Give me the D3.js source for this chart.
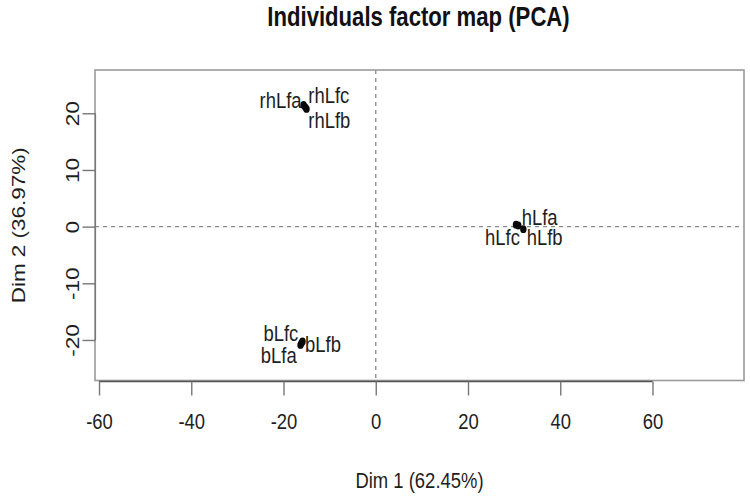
<!DOCTYPE html>
<html>
<head>
<meta charset="utf-8">
<script src="https://cdn.jsdelivr.net/npm/d3@7"></script>
<style>
  html, body { margin: 0; padding: 0; background: #fff; }
  svg { display: block; }
  text { font-family: "Liberation Sans", Arial, Helvetica, sans-serif; fill: #1e1e1e; }
</style>
</head>
<body>
<svg id="chart" width="750" height="499"></svg>
<script>
// ---- data ----
const individuals = ["rhLfa", "rhLfc", "rhLfb", "hLfc", "hLfa", "hLfb", "bLfa", "bLfc", "bLfb"];
const dim1 = [-15.66, -15.30, -15.01, 30.40, 30.90, 32.00, -16.31, -16.10, -15.88];
const dim2 = [21.47, 21.10, 20.77, 0.35, 0.20, -0.45, -20.87, -20.55, -20.26];
const xTicks = [-60, -40, -20, 0, 20, 40, 60];
const yTicks = [-20, -10, 0, 10, 20];
const titleText = "Individuals factor map (PCA)";
const xLabel = "Dim 1 (62.45%)";
const yLabel = "Dim 2 (36.97%)";

// label placement (pixel offsets from the point, as chosen by the label-repel step)
const labelPlacement = {
  rhLfa: [-2, 3.3, "end"],  rhLfc: [3.1, -3.8, "start"], rhLfb: [1.8, 19.3, "start"],
  hLfc:  [4, 20.3, "end"],  hLfa:  [3.4, -0.6, "start"], hLfb:  [3.3, 15.8, "start"],
  bLfa:  [-3.8, 18, "end"], bLfc:  [-3.2, -2.2, "end"],  bLfb:  [2.5, 10.2, "start"]
};

// ---- layout ----
const SX = 0.82;          // horizontal squeeze of the original picture
const FS = 22.5;          // base font size
const box = { left: 95, right: 744, top: 70, bottom: 380.5 };
const fmt = d => String(d);   // plain hyphen-minus like the original

const svg = d3.select("#chart");
const x = d3.scaleLinear().domain([-60.87, 79.84]).range([box.left, box.right]);
const y = d3.scaleLinear().domain([-27.15, 27.64]).range([box.bottom, box.top]);

// dashed reference lines
svg.append("line")
  .attr("x1", x(0)).attr("x2", x(0)).attr("y1", box.top).attr("y2", box.bottom)
  .attr("stroke", "#8a8a8a").attr("stroke-width", 1.3).attr("stroke-dasharray", "4,4");
svg.append("line")
  .attr("x1", box.left).attr("x2", box.right).attr("y1", y(0)).attr("y2", y(0))
  .attr("stroke", "#8a8a8a").attr("stroke-width", 1.3).attr("stroke-dasharray", "4,4");

// box
svg.append("rect")
  .attr("x", box.left).attr("y", box.top)
  .attr("width", box.right - box.left).attr("height", box.bottom - box.top)
  .attr("fill", "none").attr("stroke", "#9a9a9a").attr("stroke-width", 1.6);

// x axis
const gx = svg.append("g").attr("transform", `translate(0,${box.bottom + 1})`)
  .call(d3.axisBottom(x).tickValues(xTicks).tickSize(14).tickSizeOuter(0).tickFormat(fmt));
gx.select(".domain").attr("d", `M${x(-60)},0H${x(60)}`).attr("stroke", "#555").attr("stroke-width", 1.6);
gx.selectAll(".tick line").attr("stroke", "#777").attr("stroke-width", 1.4);
gx.selectAll(".tick text")
  .attr("y", null).attr("dy", null)
  .attr("transform", `translate(0,47.5) scale(${SX},1)`)
  .attr("text-anchor", "middle")
  .style("font-size", FS + "px").style("fill", "#1e1e1e")
  .style("font-family", '"Liberation Sans", Arial, sans-serif');

// y axis
const gy = svg.append("g").attr("transform", `translate(${box.left + 0.5},0)`)
  .call(d3.axisLeft(y).tickValues(yTicks).tickSize(13).tickSizeOuter(0).tickFormat(fmt));
gy.select(".domain").attr("d", `M0,${y(-20)}V${y(20)}`).attr("stroke", "#777").attr("stroke-width", 1.2);
gy.selectAll(".tick line").attr("stroke", "#777").attr("stroke-width", 1.4);
gy.selectAll(".tick text")
  .attr("x", null).attr("dy", null)
  .attr("transform", `translate(-17,0) scale(${SX},1) rotate(-90)`)
  .attr("text-anchor", "middle")
  .style("font-size", FS + "px").style("fill", "#1e1e1e")
  .style("font-family", '"Liberation Sans", Arial, sans-serif');

// points
const pts = individuals.map((name, i) => ({ name, d1: dim1[i], d2: dim2[i] }));
svg.append("g").selectAll("ellipse").data(pts).join("ellipse")
  .attr("cx", d => x(d.d1)).attr("cy", d => y(d.d2))
  .attr("rx", 3.2).attr("ry", 3.9).attr("fill", "#0a0a0a");

// point labels
svg.append("g").selectAll("text").data(pts).join("text")
  .attr("transform", d => {
    const p = labelPlacement[d.name];
    return `translate(${x(d.d1) + p[0]},${y(d.d2) + p[1]}) scale(${SX},1)`;
  })
  .attr("text-anchor", d => labelPlacement[d.name][2])
  .style("font-size", FS + "px")
  .text(d => d.name);

// titles
svg.append("text")
  .attr("transform", `translate(${(box.left + box.right) / 2 - 1},25.5) scale(${SX},1)`)
  .attr("text-anchor", "middle").style("font-size", "27px").style("font-weight", "bold")
  .style("fill", "#111")
  .text(titleText);
svg.append("text")
  .attr("transform", `translate(${(box.left + box.right) / 2},488) scale(${SX},1)`)
  .attr("text-anchor", "middle").style("font-size", FS + "px")
  .text(xLabel);
svg.append("text")
  .attr("transform", `translate(25,${(box.top + box.bottom) / 2}) scale(${SX},1) rotate(-90)`)
  .attr("text-anchor", "middle").style("font-size", FS + "px")
  .text(yLabel);
</script>
</body>
</html>
